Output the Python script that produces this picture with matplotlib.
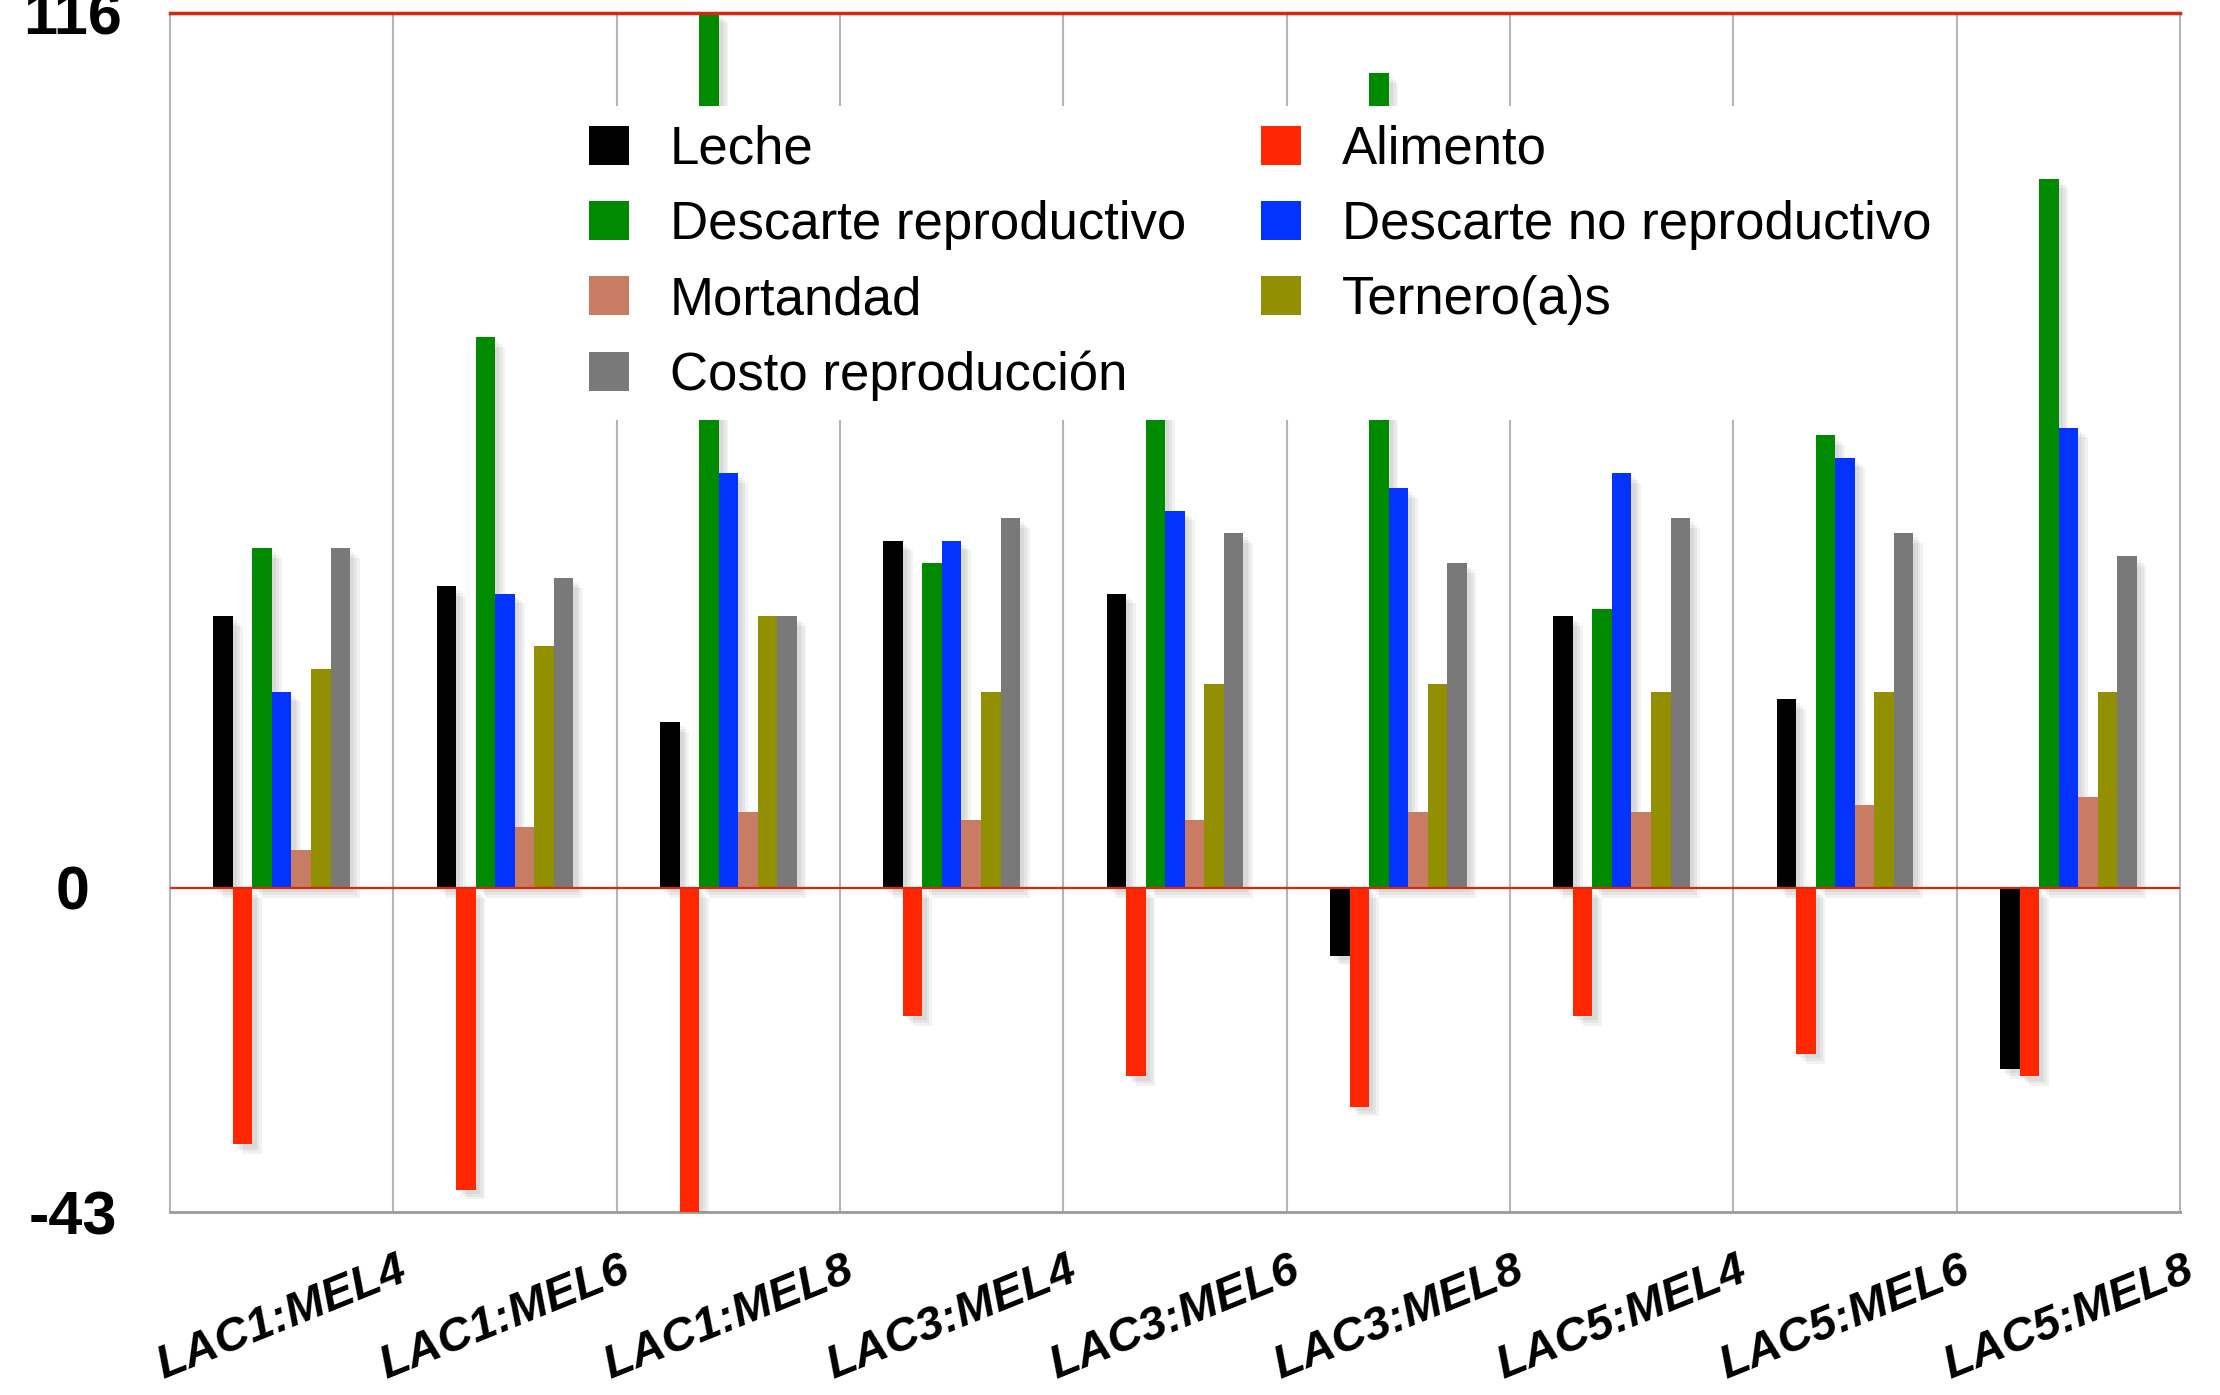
import numpy as np
import matplotlib.pyplot as plt
import matplotlib.patheffects as pe

plt.rcParams['font.family'] = ['Liberation Sans', 'DejaVu Sans']

categories = ['LAC1:MEL4', 'LAC1:MEL6', 'LAC1:MEL8',
              'LAC3:MEL4', 'LAC3:MEL6', 'LAC3:MEL8',
              'LAC5:MEL4', 'LAC5:MEL6', 'LAC5:MEL8']

leche = [36, 40, 22, 46, 39, -9, 36, 25, -24]
alimento = [-34, -40, -43, -17, -25, -29, -17, -22, -25]
descarte_repro = [45, 73, 116, 43, 85, 108, 37, 60, 94]
descarte_no_repro = [26, 39, 55, 46, 50, 53, 55, 57, 61]
mortandad = [5, 8, 10, 9, 9, 10, 10, 11, 12]
terneros = [29, 32, 36, 26, 27, 27, 26, 26, 26]
costo_repro = [45, 41, 36, 49, 47, 43, 49, 47, 44]

series_names = ['Leche', 'Alimento', 'Descarte reproductivo', 'Descarte no reproductivo',
                'Mortandad', 'Ternero(a)s', 'Costo reproducción']
series_values = [leche, alimento, descarte_repro, descarte_no_repro,
                 mortandad, terneros, costo_repro]
series_colors = ['#000000', '#ff2600', '#008a00', '#0433ff',
                 '#c77c63', '#929000', '#797979']

y_min, y_max = -43, 116

fig = plt.figure(figsize=(22.2, 13.95), dpi=100)
ax = fig.add_axes([0.0766, 0.131, 0.9054, 0.86])

x = np.arange(len(categories))
bar_w = 0.0875
# soft drop shadow built from a few stacked offsets
shadow = [pe.SimplePatchShadow(offset=(d, -d), shadow_rgbFace='black', alpha=0.05)
          for d in (7, 5, 3)] + [pe.Normal()]

handles = {}
for k, (name, vals, col) in enumerate(zip(series_names, series_values, series_colors)):
    offs = (k - 3) * bar_w
    bars = ax.bar(x + offs, vals, width=bar_w, color=col, zorder=3, linewidth=0)
    for b in bars:
        b.set_path_effects(shadow)
    handles[name] = bars

# category separators
for xv in x[:-1] + 0.5:
    ax.axvline(xv, color='#b5b5b5', lw=1.5, zorder=1)

ax.axhline(0, color='#d9260c', lw=1.6, zorder=4)

ax.set_xlim(-0.5, len(categories) - 0.5)
ax.set_ylim(y_min, y_max)

for side in ['left', 'right']:
    ax.spines[side].set_color('#b5b5b5')
    ax.spines[side].set_linewidth(1.5)
ax.spines['bottom'].set_color('#9a9a9a')
ax.spines['bottom'].set_linewidth(2)
ax.spines['top'].set_color('#d9260c')
ax.spines['top'].set_linewidth(2.5)
ax.spines['top'].set_zorder(5)

ax.set_yticks([y_min, 0, y_max])
ax.set_yticklabels([str(y_min), '0', str(y_max)], fontsize=44, fontweight='bold')
for lbl in ax.get_yticklabels():
    lbl.set_horizontalalignment('center')
ax.tick_params(axis='y', length=0, pad=70)

ax.set_xticks(x)
ax.set_xticklabels(categories, fontsize=34, fontweight='bold', fontstyle='italic',
                   rotation=22, ha='center', va='top')
ax.tick_params(axis='x', length=0, pad=26)

order = ['Leche', 'Descarte reproductivo', 'Mortandad', 'Costo reproducción',
         'Alimento', 'Descarte no reproductivo', 'Ternero(a)s']
leg = ax.legend([handles[n] for n in order], order, ncol=2, fontsize=38,
                loc='upper left', bbox_to_anchor=(0.199, 0.922),
                frameon=True, fancybox=False, borderpad=0.35,
                handlelength=0.76, handleheight=0.76, handletextpad=0.78,
                labelspacing=0.48, columnspacing=1.42, borderaxespad=0)
leg.get_frame().set_facecolor('white')
leg.get_frame().set_edgecolor('none')
leg.get_frame().set_alpha(1)
leg.set_zorder(6)
for h in leg.legend_handles:
    h.set_path_effects([])

fig.savefig('out.png', dpi=100)
